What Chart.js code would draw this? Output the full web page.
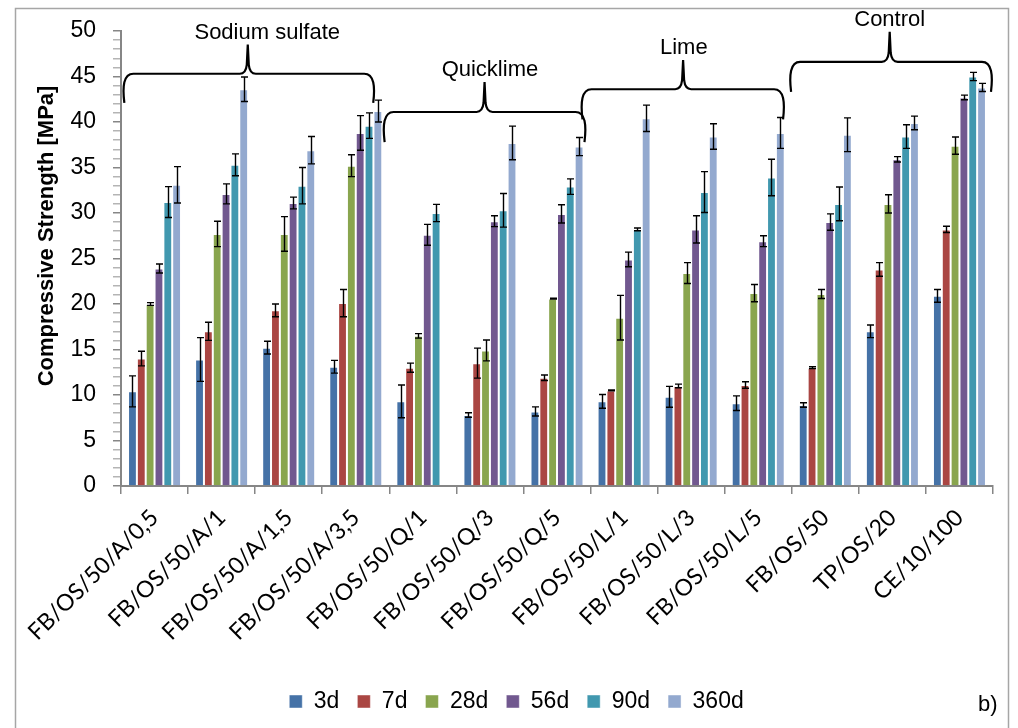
<!DOCTYPE html>
<html>
<head>
<meta charset="utf-8">
<script src="https://cdn.jsdelivr.net/npm/chart.js@4.4.0/dist/chart.umd.min.js"></script>
<style>
  html, body { margin: 0; padding: 0; background: #fff; }
  #wrap { width: 1018px; height: 728px; }
</style>
</head>
<body>
<div id="wrap"><canvas id="chart" width="1018" height="728"></canvas></div>
<script>
// categories and series
const categories = ['FB/OS/50/A/0,5', 'FB/OS/50/A/1', 'FB/OS/50/A/1,5', 'FB/OS/50/A/3,5',
    'FB/OS/50/Q/1', 'FB/OS/50/Q/3', 'FB/OS/50/Q/5', 'FB/OS/50/L/1', 'FB/OS/50/L/3',
    'FB/OS/50/L/5', 'FB/OS/50', 'TP/OS/20', 'CE/10/100'];
const seriesNames = ['3d', '7d', '28d', '56d', '90d', '360d'];
const seriesColors = ['#4572A7', '#AA4643', '#89A54E', '#71588F', '#4198AF', '#93A9CF'];

const s3d   = [10.4, 13.9, 15.2, 13.1,  9.3,  7.8,  8.2,  9.3,  9.8,  9.1,  8.9, 17.0, 20.9];
const s7d   = [14.0, 17.0, 19.3, 20.1, 13.0, 13.5, 11.9, 10.5, 11.0, 11.1, 13.0, 23.8, 28.2];
const s28d  = [20.0, 27.7, 27.7, 35.2, 16.5, 14.9, 20.6, 18.5, 23.4, 21.2, 21.1, 31.0, 37.4];
const s56d  = [23.9, 32.1, 31.1, 38.8, 27.6, 29.1, 29.9, 24.9, 28.2, 26.9, 29.0, 35.9, 42.7];
const s90d  = [31.2, 35.3, 33.0, 39.6, 30.0, 30.3, 32.9, 28.2, 32.3, 33.9, 31.0, 38.4, 45.0];
const s360d = [33.1, 43.6, 36.9, 41.2, null, 37.7, 37.3, 40.4, 38.4, 38.8, 38.6, 39.9, 43.8];

// standard deviations (error bars)
const e3d   = [1.7, 2.4, 0.7, 0.7, 1.8, 0.25, 0.5, 0.75, 1.15, 0.8, 0.25, 0.7, 0.7];
const e7d   = [0.8, 1.0, 0.7, 1.5, 0.5, 1.65, 0.3, 0.05, 0.2, 0.35, 0.1, 0.75, 0.35];
const e28d  = [0.15, 1.4, 1.9, 1.2, 0.25, 1.15, 0.05, 2.45, 1.15, 0.95, 0.5, 1.0, 0.95];
const e56d  = [0.5, 1.1, 0.65, 1.9, 1.15, 0.6, 1.0, 0.8, 1.5, 0.6, 0.9, 0.3, 0.25];
const e90d  = [1.7, 1.2, 2.0, 1.4, 0.95, 1.85, 0.85, 0.15, 2.25, 2.0, 1.85, 1.3, 0.45];
const e360d = [2.0, 1.35, 1.5, 1.2, null, 1.85, 1.0, 1.45, 1.4, 1.7, 1.85, 0.75, 0.45];

const seriesValues = [s3d, s7d, s28d, s56d, s90d, s360d];
const seriesErrors = [e3d, e7d, e28d, e56d, e90d, e360d];

// y axis
const yMin = 0, yMax = 50, yMajor = 5;

// group braces: category index span, tip, label position, and level in MPa
const braces = [
    { label: 'Sodium sulfate', from: -0.45, to: 3.26, tip: 1.39, text: 1.68, level: 45.3, drop: 3.2, rise: 3.2 },
    { label: 'Quicklime',      from: 3.43,  to: 6.41, tip: 4.92, text: 5.0,  level: 41.1, drop: 3.3, rise: 3.3 },
    { label: 'Lime',           from: 6.38,  to: 9.37, tip: 7.88, text: 7.89, level: 43.6, drop: 3.3, rise: 3.2 },
    { label: 'Control',        from: 9.49,  to: 12.47, tip: 10.96, text: 10.96, level: 46.6, drop: 3.3, rise: 3.3 }
];

const axisGray = '#868686';
const leftPad = 40;

const errorBars = {
    id: 'errorBars',
    afterDatasetsDraw(chart) {
        const ctx = chart.ctx;
        const y = chart.scales.y;
        ctx.save();
        ctx.strokeStyle = '#000';
        ctx.lineWidth = 1.4;
        chart.data.datasets.forEach((ds, i) => {
            const meta = chart.getDatasetMeta(i);
            meta.data.forEach((bar, j) => {
                const v = ds.data[j], e = seriesErrors[i][j];
                if (v == null || e == null) return;
                const x = Math.round(bar.x) + 0.5;
                const top = y.getPixelForValue(v + e);
                const bot = y.getPixelForValue(v - e);
                ctx.beginPath();
                ctx.moveTo(x, top); ctx.lineTo(x, bot);
                ctx.moveTo(x - 3.5, top); ctx.lineTo(x + 3.5, top);
                ctx.moveTo(x - 3.5, bot); ctx.lineTo(x + 3.5, bot);
                ctx.stroke();
            });
        });
        ctx.restore();
    }
};

const decorations = {
    id: 'decorations',
    afterDraw(chart) {
        const ctx = chart.ctx;
        const xs = chart.scales.x, ys = chart.scales.y;
        ctx.save();

        // frame
        ctx.strokeStyle = '#a6a6a6';
        ctx.lineWidth = 1.5;
        ctx.strokeRect(15.5, 8.5, 993, 740);

        // braces
        ctx.strokeStyle = '#000';
        ctx.lineWidth = 2.2;
        ctx.lineJoin = 'round';
        ctx.fillStyle = '#000';
        ctx.font = '22px "Liberation Sans", Arial, sans-serif';
        ctx.textAlign = 'center';
        ctx.textBaseline = 'alphabetic';
        braces.forEach(b => {
            const xl = xs.getPixelForValue(b.from);
            const xr = xs.getPixelForValue(b.to);
            const xt = xs.getPixelForValue(b.tip);
            const yh = ys.getPixelForValue(b.level);
            const yb = ys.getPixelForValue(b.level - b.drop);
            const yt = ys.getPixelForValue(b.level + b.rise);
            ctx.beginPath();
            ctx.moveTo(xl, yb);
            ctx.bezierCurveTo(xl - 2, yh + (yb - yh) * 0.45, xl - 1, yh, xl + 9, yh);
            ctx.lineTo(xt - 8, yh);
            ctx.quadraticCurveTo(xt - 2, yh, xt - 1, yh - 9);
            ctx.lineTo(xt, yt);
            ctx.moveTo(xt, yt);
            ctx.lineTo(xt + 1, yh - 9);
            ctx.quadraticCurveTo(xt + 2, yh, xt + 8, yh);
            ctx.lineTo(xr - 9, yh);
            ctx.bezierCurveTo(xr + 1, yh, xr + 2, yh + (yb - yh) * 0.45, xr, yb);
            ctx.stroke();
            ctx.fillText(b.label, xs.getPixelForValue(b.text), yt - 6);
        });

        // y axis title
        ctx.save();
        ctx.translate(47, 236);
        ctx.rotate(-Math.PI / 2);
        ctx.font = 'bold 22px "Liberation Sans", Arial, sans-serif';
        ctx.textBaseline = 'middle';
        ctx.fillText('Compressive Strength [MPa]', 0, 0);
        ctx.restore();

        // panel tag
        ctx.font = '22px "Liberation Sans", Arial, sans-serif';
        ctx.textAlign = 'left';
        ctx.textBaseline = 'middle';
        ctx.fillText('b)', 978, 705);
        ctx.restore();
    }
};

new Chart(document.getElementById('chart'), {
    type: 'bar',
    data: {
        labels: categories,
        datasets: seriesNames.map((name, i) => ({
            label: name,
            data: seriesValues[i],
            backgroundColor: seriesColors[i],
            borderColor: 'rgba(255,255,255,0.45)',
            borderWidth: 1,
            barPercentage: 1.0,
            categoryPercentage: 0.79
        }))
    },
    options: {
        responsive: false,
        animation: false,
        devicePixelRatio: 1,
        layout: { padding: { top: 31, right: 25, bottom: 5, left: leftPad } },
        plugins: {
            tooltip: { enabled: false },
            legend: {
                position: 'bottom',
                labels: {
                    color: '#000',
                    font: { family: '"Liberation Sans", Arial, sans-serif', size: 23 },
                    boxWidth: 13,
                    boxHeight: 13,
                    padding: 18
                }
            }
        },
        scales: {
            x: {
                grid: { display: true, drawOnChartArea: false, offset: true, tickLength: 8, color: axisGray, lineWidth: 1.5 },
                border: { color: axisGray, width: 2 },
                ticks: {
                    color: '#000',
                    font: { family: 'Lato, "Open Sans", sans-serif', size: 23 },
                    maxRotation: 45,
                    minRotation: 45,
                    autoSkip: false,
                    padding: 10
                },
                afterFit(s) { s.height = 186; }
            },
            y: {
                min: yMin,
                max: yMax,
                grid: {
                    drawOnChartArea: false,
                    tickLength: 8,
                    color: c => (c.tick && c.tick.value % yMajor === 0) ? axisGray : '#b4b4b4',
                    lineWidth: 1.5
                },
                border: { color: axisGray, width: 2 },
                ticks: {
                    stepSize: 1,
                    autoSkip: false,
                    color: '#000',
                    padding: 17,
                    font: { family: '"Liberation Sans", Arial, sans-serif', size: 23 },
                    callback: v => (v % yMajor === 0 ? v : '')
                },
                afterFit(s) { s.width = 121 - leftPad; }
            }
        }
    },
    plugins: [errorBars, decorations]
});
</script>
</body>
</html>
